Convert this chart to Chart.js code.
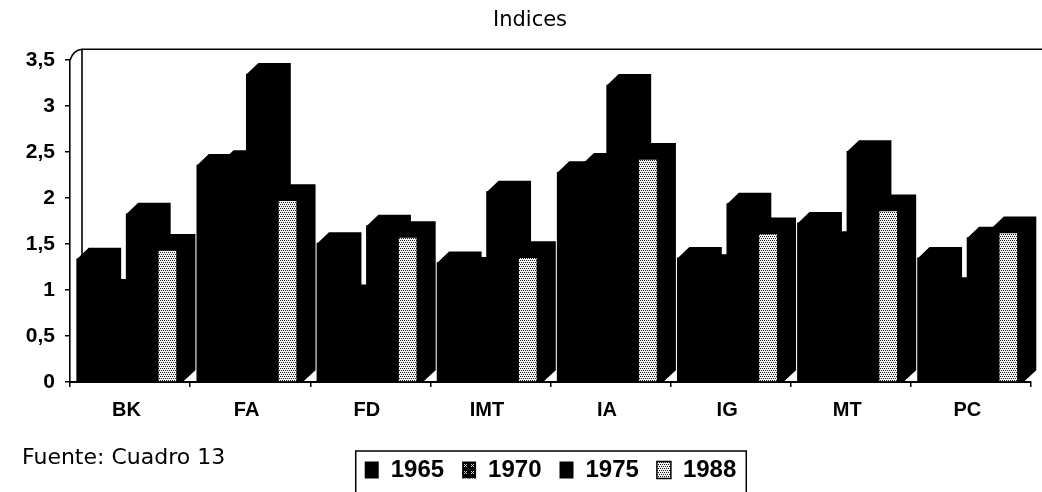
<!DOCTYPE html>
<html>
<head>
<meta charset="utf-8">
<script src="https://cdn.jsdelivr.net/npm/chart.js@4/dist/chart.umd.min.js"></script>
<style>
    body { margin: 0; background: #fff; overflow: hidden; }
    #wrap { position: relative; width: 1042px; height: 492px; }
    #fuente {
        position: absolute; left: 22px; top: 446px;
        font-family: "DejaVu Sans", sans-serif; font-size: 22px; line-height: 22px; color: #000;
    }
</style>
</head>
<body>
<div id="wrap">
    <canvas id="indices" width="1042" height="492"></canvas>
    <div id="fuente">Fuente: Cuadro 13</div>
</div>
<script>
    const categories = ['BK', 'FA', 'FD', 'IMT', 'IA', 'IG', 'MT', 'PC'];
    const years = ['1965', '1970', '1975', '1988'];

    const v1965 = [1.34, 2.36, 1.51, 1.30, 2.28, 1.35, 1.73, 1.35];
    const v1970 = [1.00, 2.40, 0.94, 1.24, 2.37, 1.27, 1.52, 1.02];
    const v1975 = [1.83, 3.35, 1.70, 2.07, 3.23, 1.94, 2.51, 1.57];
    const v1988 = [1.49, 2.03, 1.63, 1.41, 2.48, 1.67, 1.92, 1.68];

    const yMin = 0, yMax = 3.5, yStep = 0.5;

    // fake 3d look
    const depthX = 12, depthY = 11;
    const barOffset = 0.193, barStep = 0.206;

    function makePattern(bg, fg, size, dots) {
        let c = document.createElement('canvas');
        c.width = size; c.height = size;
        let g = c.getContext('2d');
        g.fillStyle = bg;
        g.fillRect(0, 0, size, size);
        g.fillStyle = fg;
        dots.forEach(d => g.fillRect(d[0], d[1], 1, 1));
        return g.createPattern(c, 'repeat');
    }

    const dotsLight = makePattern('#f2f2f2', '#1e1e1e', 4, [[0, 0], [2, 0], [1, 2], [3, 2]]);
    const dotsDark = makePattern('#050505', '#cfcfcf', 7, [[2, 2], [4, 2], [3, 3], [2, 4], [4, 4]]);

    const series = [v1965, v1970, v1975, v1988];
    const fills = ['#000', '#000', '#000', dotsLight];

    let datasets = series.map((vals, k) => ({
        label: years[k],
        data: vals.map((v, i) => ({ x: i + barOffset + k * barStep, y: v })),
        backgroundColor: fills[k],
        borderColor: '#000',
        borderWidth: k === 3 ? { top: 6, left: 8, right: 8, bottom: 0 } : 0,
        order: series.length - 1 - k,
        grouped: false,
        barThickness: 33
    }));

    const threeD = {
        id: 'threeD',
        beforeDatasetsDraw(chart) {
            const { ctx, chartArea } = chart;
            let top = chart.scales.y.getPixelForValue(yMax);
            let bottom = chart.scales.y.getPixelForValue(yMin);
            ctx.save();
            ctx.strokeStyle = '#000';
            ctx.lineWidth = 1.6;
            ctx.beginPath();
            ctx.moveTo(chartArea.left, top);
            ctx.quadraticCurveTo(chartArea.left + 3, top - depthY + 1, chartArea.left + depthX, top - depthY);
            ctx.lineTo(chart.width, top - depthY);
            ctx.moveTo(chartArea.left + depthX, top - depthY);
            ctx.lineTo(chartArea.left + depthX, bottom - depthY);
            ctx.stroke();
            ctx.restore();
        },
        afterDatasetDraw(chart, args) {
            const ctx = chart.ctx;
            ctx.save();
            ctx.fillStyle = '#000';
            args.meta.data.forEach(bar => {
                const { x, y, base, width } = bar.getProps(['x', 'y', 'base', 'width'], true);
                let l = x - width / 2, r = x + width / 2 - 0.5;
                ctx.beginPath();
                ctx.moveTo(l, y + 0.5);
                ctx.lineTo(l + depthX, y - depthY);
                ctx.lineTo(r + depthX, y - depthY);
                ctx.lineTo(r + depthX, base - depthY);
                ctx.lineTo(r, base);
                ctx.lineTo(r, y + 0.5);
                ctx.closePath();
                ctx.fill();
            });
            ctx.restore();
        },
        afterDraw(chart) {
            // box round the legend
            const lg = chart.legend;
            if (!lg || !lg.legendHitBoxes.length) return;
            let hb = lg.legendHitBoxes;
            let left = Math.min(...hb.map(h => h.left)) - 9;
            let right = Math.max(...hb.map(h => h.left + h.width)) + 10;
            let top = lg.top + 11;
            const ctx = chart.ctx;
            ctx.save();
            ctx.strokeStyle = '#000';
            ctx.lineWidth = 1.5;
            ctx.beginPath();
            ctx.moveTo(left, chart.height + 2);
            ctx.lineTo(left, top);
            ctx.lineTo(right, top);
            ctx.lineTo(right, chart.height + 2);
            ctx.stroke();
            ctx.restore();
        }
    };

    new Chart('indices', {
        type: 'bar',
        data: { datasets: datasets },
        plugins: [threeD],
        options: {
            responsive: false,
            animation: false,
            devicePixelRatio: 1,
            layout: { padding: { left: 18, right: 0, top: 0, bottom: 0 } },
            plugins: {
                tooltip: { enabled: false },
                title: {
                    display: true,
                    text: 'Indices',
                    color: '#000',
                    font: { family: 'DejaVu Sans', size: 21, weight: 'normal' },
                    padding: { top: 8, bottom: 27 }
                },
                legend: {
                    position: 'bottom',
                    fullSize: false,
                    labels: {
                        color: '#000',
                        font: { family: 'Liberation Sans', size: 24, weight: 'bold' },
                        boxWidth: 14,
                        boxHeight: 17,
                        padding: 18,
                        sort: (a, b) => a.datasetIndex - b.datasetIndex,
                        generateLabels: (chart) => {
                            let items = Chart.defaults.plugins.legend.labels.generateLabels(chart);
                            items.forEach(it => {
                                it.lineWidth = it.datasetIndex === 3 ? 1.5 : 0;
                                it.strokeStyle = '#000';
                                if (it.datasetIndex === 1) it.fillStyle = dotsDark;
                            });
                            return items;
                        }
                    }
                }
            },
            scales: {
                x: {
                    type: 'linear',
                    min: 0,
                    max: categories.length,
                    offset: false,
                    afterBuildTicks: (axis) => {
                        axis.ticks = categories.concat(['']).map((c, i) => ({ value: i }));
                    },
                    afterFit: (axis) => { axis.height = 58; },
                    grid: { offset: false, drawOnChartArea: false, drawTicks: true, tickLength: 5, color: '#000', lineWidth: 1.5 },
                    border: { display: true, color: '#000', width: 2 },
                    ticks: {
                        color: '#000',
                        font: { family: 'Liberation Sans', size: 20, weight: 'bold' },
                        autoSkip: false,
                        maxRotation: 0,
                        padding: 11,
                        labelOffset: 56.5,
                        callback: (v) => categories[v] || ''
                    }
                },
                y: {
                    min: yMin,
                    max: yMax,
                    afterFit: (axis) => { axis.width = 52; },
                    grid: { drawOnChartArea: false, drawTicks: true, tickLength: 5, color: '#000', lineWidth: 1.5 },
                    border: { display: true, color: '#000', width: 1.6 },
                    ticks: {
                        stepSize: yStep,
                        color: '#000',
                        padding: 10,
                        font: { family: 'Liberation Sans', size: 21, weight: 'bold' },
                        callback: (v) => String(v).replace('.', ',')
                    }
                }
            }
        }
    });
</script>
</body>
</html>
